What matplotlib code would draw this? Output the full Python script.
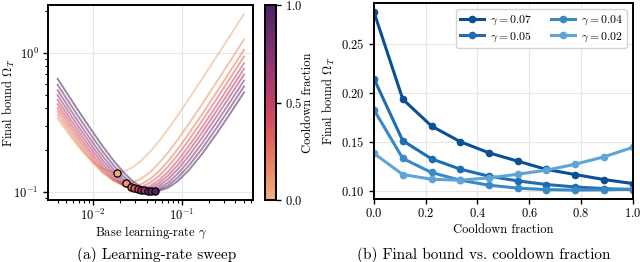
import numpy as np
import matplotlib
matplotlib.use("Agg")
import matplotlib.pyplot as plt
import seaborn as sns
from matplotlib.colors import Normalize
from matplotlib.cm import ScalarMappable

plt.rcParams.update({
    "font.family": "serif",
    "font.serif": ["cmr10", "DejaVu Serif"],
    "mathtext.fontset": "cm",
    "axes.unicode_minus": False,
    "axes.formatter.use_mathtext": True,
    "font.size": 9,
    "axes.linewidth": 1.4,
    "xtick.labelsize": 9,
    "ytick.labelsize": 9,
})

# ---------------- data: left panel ----------------
cooldown = [0.0, 1/9, 2/9, 3/9, 4/9, 5/9, 6/9, 7/9, 8/9, 1.0]
gamma_grid = [0.004, 0.0055, 0.0075, 0.01, 0.013, 0.017, 0.022, 0.028, 0.035,
              0.044, 0.055, 0.07, 0.09, 0.12, 0.17, 0.25, 0.35, 0.5]
bound_c0 = [0.336, 0.2535, 0.1984, 0.1647, 0.1462, 0.138, 0.1399, 0.1502, 0.1678, 0.1946, 0.2308, 0.2831, 0.3553, 0.4662, 0.6535, 0.9558, 1.335, 1.905]
bound_c1 = [0.3551, 0.2641, 0.2017, 0.1616, 0.1369, 0.1217, 0.1156, 0.117, 0.1246, 0.139, 0.1602, 0.1923, 0.2378, 0.3088, 0.43, 0.6266, 0.8739, 1.246]
bound_c2 = [0.3764, 0.2787, 0.2111, 0.167, 0.139, 0.1206, 0.1113, 0.1095, 0.1136, 0.1239, 0.1404, 0.1663, 0.2037, 0.2627, 0.3642, 0.5294, 0.7376, 1.051]
bound_c3 = [0.4005, 0.2957, 0.2228, 0.1748, 0.1439, 0.1227, 0.111, 0.1068, 0.1087, 0.1164, 0.13, 0.1521, 0.1848, 0.2368, 0.3269, 0.4742, 0.66, 0.94]
bound_c4 = [0.4278, 0.3151, 0.2364, 0.1841, 0.1501, 0.1261, 0.1118, 0.1054, 0.1051, 0.1104, 0.1212, 0.1399, 0.1683, 0.2142, 0.2942, 0.4255, 0.5915, 0.842]
bound_c5 = [0.4592, 0.3375, 0.2524, 0.1955, 0.158, 0.1311, 0.1143, 0.1058, 0.1035, 0.1066, 0.1153, 0.1312, 0.1561, 0.1971, 0.2693, 0.3883, 0.5392, 0.767]
bound_c6 = [0.4956, 0.3636, 0.2711, 0.2089, 0.1676, 0.1375, 0.1181, 0.1072, 0.1029, 0.1039, 0.1103, 0.1236, 0.1453, 0.1817, 0.2466, 0.3542, 0.4911, 0.698]
bound_c7 = [0.5382, 0.3943, 0.2931, 0.2249, 0.1792, 0.1454, 0.123, 0.1097, 0.1032, 0.102, 0.1061, 0.1167, 0.1352, 0.1672, 0.225, 0.3217, 0.4452, 0.632]
bound_c8 = [0.5888, 0.4308, 0.3195, 0.2442, 0.1934, 0.1555, 0.1297, 0.1137, 0.1049, 0.1014, 0.1033, 0.1113, 0.1268, 0.1546, 0.2059, 0.2928, 0.4041, 0.573]
bound_c9 = [0.6499, 0.475, 0.3515, 0.2678, 0.211, 0.1682, 0.1386, 0.1195, 0.1081, 0.1022, 0.1018, 0.1072, 0.1196, 0.1435, 0.1888, 0.2665, 0.3667, 0.519]
best_gamma = [0.0184, 0.0236, 0.0265, 0.029, 0.0317, 0.0345, 0.0376, 0.0412, 0.0453, 0.0501]
best_bound = [0.1376, 0.1153, 0.1093, 0.1068, 0.1046, 0.1035, 0.1026, 0.1018, 0.1014, 0.1013]

# ---------------- data: right panel ----------------
cd_frac = [0.0, 1/9, 2/9, 3/9, 4/9, 5/9, 6/9, 7/9, 8/9, 1.0]
lr_labels = ["0.07", "0.05", "0.04", "0.02"]
omega_007 = [0.2825, 0.1935, 0.1660, 0.1500, 0.1386, 0.1301, 0.1216, 0.1164, 0.1113, 0.1072]
omega_005 = [0.2143, 0.1510, 0.1325, 0.1219, 0.1147, 0.1099, 0.1062, 0.1037, 0.1020, 0.1010]
omega_004 = [0.1825, 0.1329, 0.1185, 0.1106, 0.1055, 0.1025, 0.1010, 0.1005, 0.1008, 0.1015]
omega_002 = [0.1380, 0.1164, 0.1116, 0.1106, 0.1130, 0.1167, 0.1209, 0.1270, 0.1345, 0.1442]

curves = [bound_c0, bound_c1, bound_c2, bound_c3, bound_c4,
          bound_c5, bound_c6, bound_c7, bound_c8, bound_c9]
right_series = [omega_007, omega_005, omega_004, omega_002]
right_colors = ["#0b4f94", "#1f6cb0", "#3a89c5", "#5fa4d6"]

cmap = sns.color_palette("flare", as_cmap=True)
norm = Normalize(0, 1)

fig = plt.figure(figsize=(6.4, 2.62), dpi=100)
ax1 = fig.add_axes([0.0755, 0.2366, 0.3203, 0.7443])
cax = fig.add_axes([0.4145, 0.2366, 0.0160, 0.7443])
ax2 = fig.add_axes([0.5844, 0.2405, 0.4042, 0.7470])

for c, vals in zip(cooldown, curves):
    ax1.plot(gamma_grid, vals, color=cmap(norm(c)), alpha=0.55, lw=1.4, zorder=2)
for c, g, b in zip(cooldown, best_gamma, best_bound):
    ax1.plot(g, b, "o", ms=5.2, mfc=cmap(norm(c)), mec="black", mew=0.9, zorder=4)
ax1.set_xscale("log")
ax1.set_yscale("log")
ax1.grid(True, which="major", color="#e6e6e6", lw=0.8)
ax1.set_axisbelow(True)
ax1.set_xlabel(r"Base learning-rate $\gamma$")
ax1.set_ylabel(r"Final bound $\Omega_T$")
ax1.xaxis.set_label_coords(0.5, -0.128)
ax1.yaxis.set_label_coords(-0.155, 0.5)
ax1.tick_params(which="major", length=3.5, width=1.0)
ax1.tick_params(which="minor", length=2, width=0.8)
ax1.tick_params(axis="x", which="both", pad=2)

cb = fig.colorbar(ScalarMappable(norm=norm, cmap=cmap), cax=cax)
cb.set_ticks([0.0, 0.5, 1.0])
cb.set_label("Cooldown fraction")
cax.yaxis.set_label_coords(3.6, 0.5)
cb.outline.set_linewidth(1.4)
cax.tick_params(length=3.5, width=1.0)

for vals, col, lab in zip(right_series, right_colors, lr_labels):
    ax2.plot(cd_frac, vals, "-o", color=col, lw=2.2, ms=4.5,
             label=r"$\gamma = %s$" % lab)
ax2.set_xlim(0, 1)
ax2.set_xticks([0.0, 0.2, 0.4, 0.6, 0.8, 1.0])
ax2.set_yticks([0.10, 0.15, 0.20, 0.25])
ax2.grid(True, color="#e6e6e6", lw=0.8)
ax2.set_axisbelow(True)
ax2.set_xlabel("Cooldown fraction")
ax2.set_ylabel(r"Final bound $\Omega_T$")
ax2.xaxis.set_label_coords(0.5, -0.125)
ax2.yaxis.set_label_coords(-0.143, 0.5)
ax2.tick_params(length=3.5, width=1.0)
ax2.tick_params(axis="x", pad=2.5)
ax2.legend(ncol=2, loc="upper right", fontsize=8.5, handlelength=2.0,
           handletextpad=0.5, columnspacing=1.6, borderpad=0.35,
           labelspacing=0.25, borderaxespad=0.5,
           framealpha=0.9, edgecolor="#d0d0d0", fancybox=True)

fig.text(0.245, 0.027, "(a) Learning-rate sweep", ha="center", va="center", fontsize=11)
fig.text(0.756, 0.027, "(b) Final bound vs. cooldown fraction", ha="center", va="center", fontsize=11)

fig.savefig("out.png", dpi=100)
